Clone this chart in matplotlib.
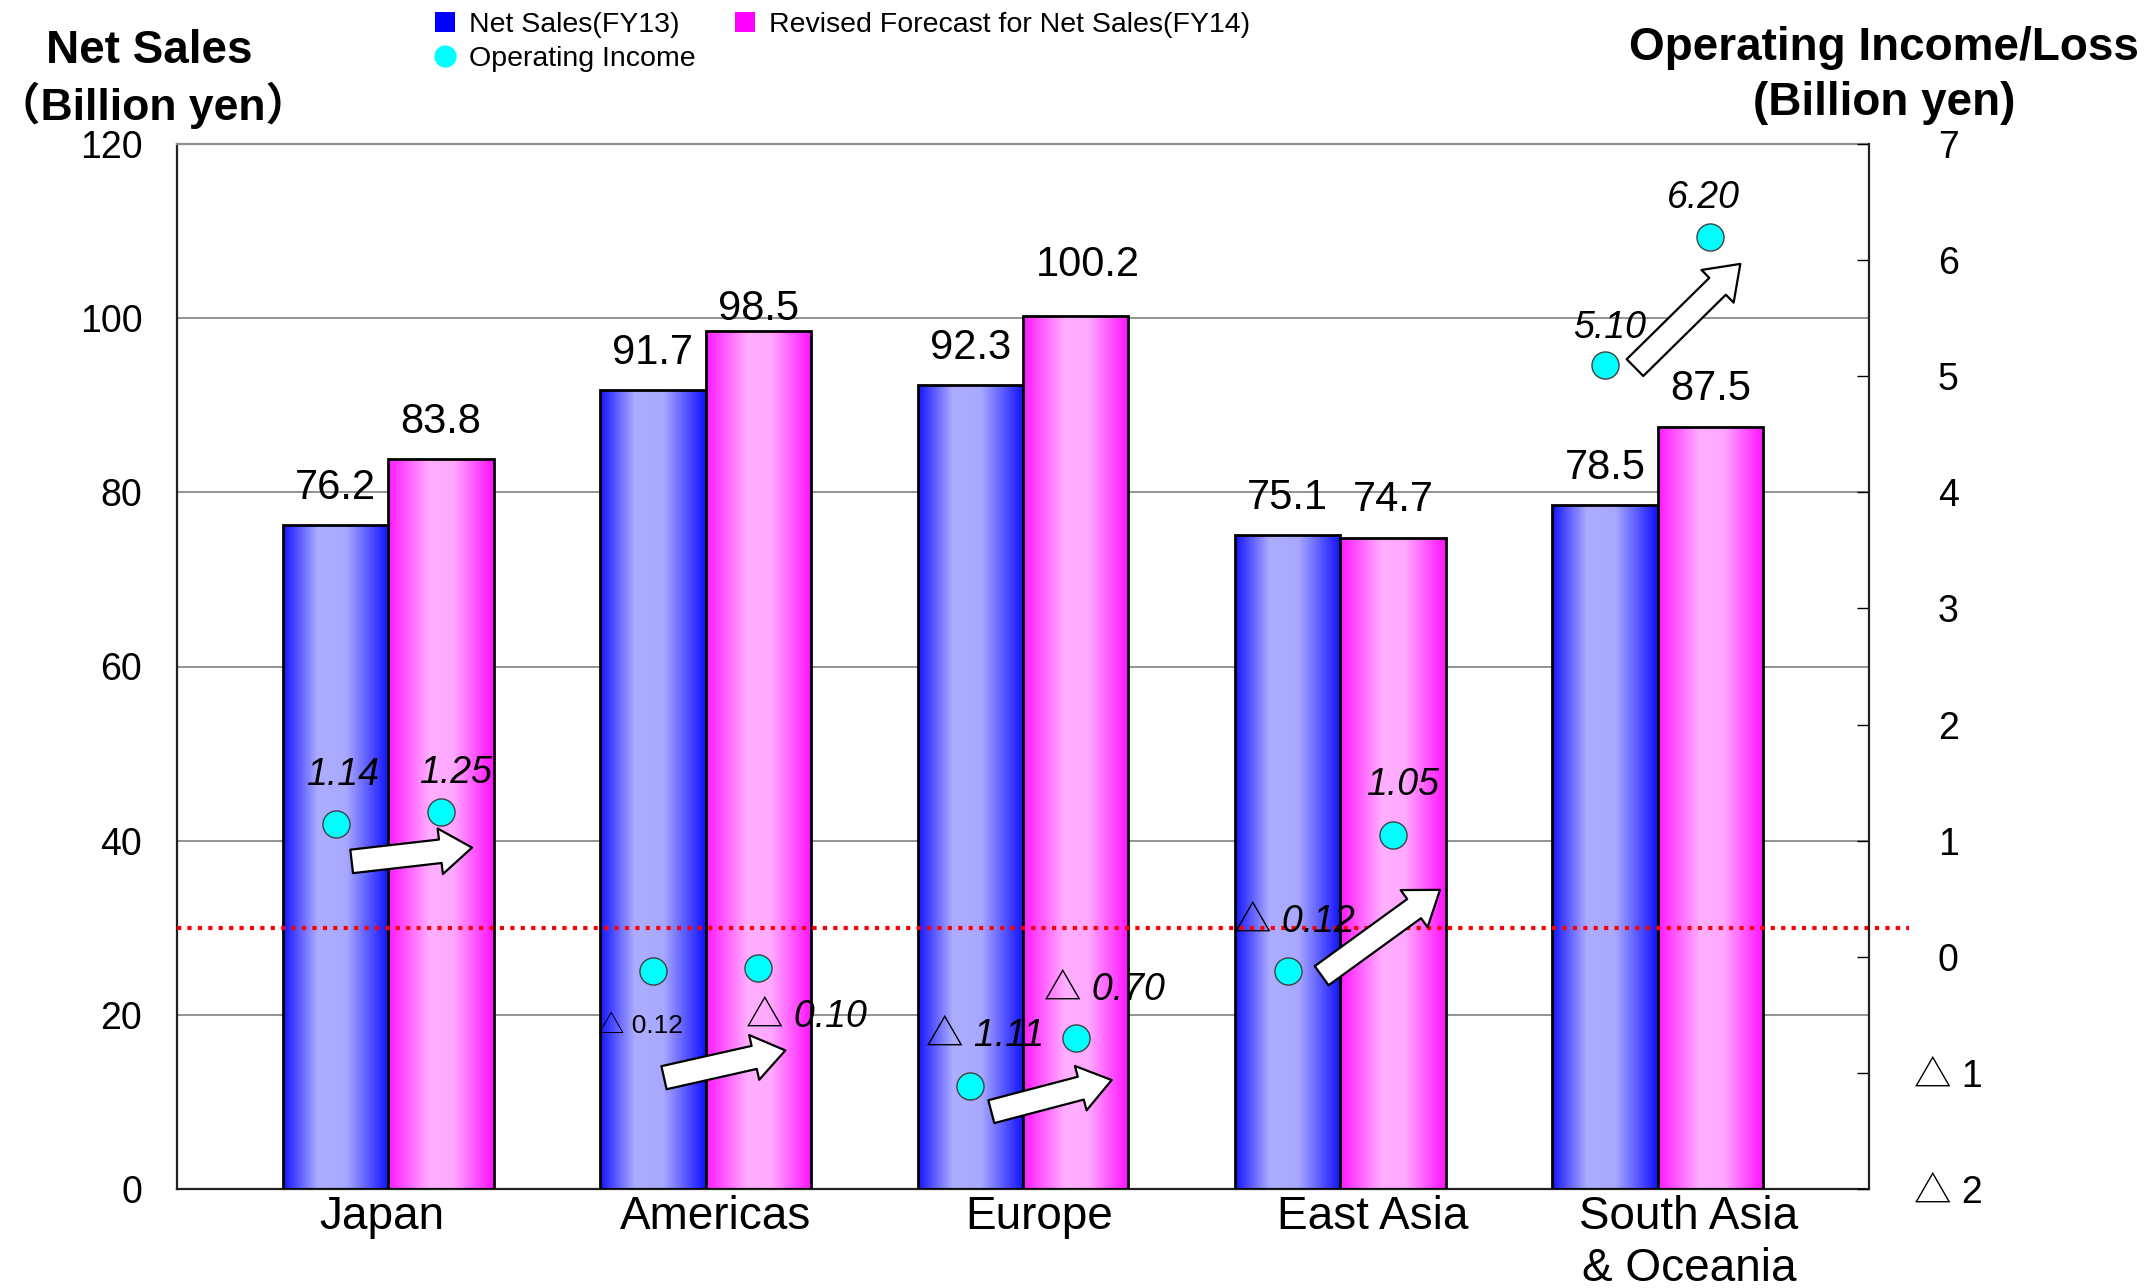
import numpy as np
import matplotlib
matplotlib.use('Agg')
import matplotlib.pyplot as plt
from matplotlib.colors import LinearSegmentedColormap
from matplotlib.patches import FancyArrowPatch, Patch, ArrowStyle
from matplotlib.lines import Line2D

# ---------------- data ----------------
regions = ['Japan', 'Americas', 'Europe', 'East Asia', 'South Asia\n& Oceania']
sales_fy13 = [76.2, 91.7, 92.3, 75.1, 78.5]
sales_fy14 = [83.8, 98.5, 100.2, 74.7, 87.5]
oi_fy13 = [1.14, -0.12, -1.11, -0.12, 5.10]
oi_fy14 = [1.25, -0.10, -0.70, 1.05, 6.20]
left_ticks = [0, 20, 40, 60, 80, 100, 120]
right_ticks = [-2, -1, 0, 1, 2, 3, 4, 5, 6, 7]
right_tick_labels = ['△ 2', '△ 1', '0', '1', '2', '3', '4', '5', '6', '7']
ref_line_value = 30
legend_labels = ['Net Sales(FY13)', 'Operating Income', 'Revised Forecast for Net Sales(FY14)']

# ---------------- style ----------------
FONT = ['Liberation Sans', 'Noto Sans CJK JP', 'DejaVu Sans']
plt.rcParams['font.family'] = FONT
DPI = 100
fig = plt.figure(figsize=(21.45, 12.88), dpi=DPI)
ax = fig.add_axes([177 / 2145, 99 / 1288, 1692 / 2145, 1045 / 1288])

x = np.arange(len(regions))
w = 0.332

blue_cmap = LinearSegmentedColormap.from_list(
    'b', [(0.0, '#1414ff'), (0.33, '#adadff'), (0.6, '#a8a8ff'), (1.0, '#1010ff')])
pink_cmap = LinearSegmentedColormap.from_list(
    'p', [(0.0, '#ff18ff'), (0.4, '#ffb0ff'), (0.62, '#ffa8ff'), (1.0, '#ff10ff')])
grad = np.linspace(0, 1, 256)[np.newaxis, :]

bars13 = ax.bar(x - w / 2, sales_fy13, w, facecolor='none', edgecolor='black', linewidth=2.0, zorder=3)
bars14 = ax.bar(x + w / 2, sales_fy14, w, facecolor='none', edgecolor='black', linewidth=2.0, zorder=3)
for bars, cmap in ((bars13, blue_cmap), (bars14, pink_cmap)):
    for p in bars:
        bx, by, bw, bh = p.get_x(), p.get_y(), p.get_width(), p.get_height()
        ax.imshow(grad, cmap=cmap, extent=[bx, bx + bw, by, by + bh], aspect='auto',
                  zorder=2, interpolation='bilinear')

ax.set_xlim(-0.666, 4.666)
ax.set_ylim(0, 120)
ax.set_yticks(left_ticks)
ax.tick_params(axis='y', length=0, pad=25, labelsize=27)
ax.yaxis.grid(True, color='#808080', linewidth=1.2, zorder=0)
ax.set_axisbelow(True)

cat_shift = [-0.022, 0.030, 0.052, 0.103, 0.099]
ax.set_xticks(x + np.array(cat_shift))
ax.set_xticklabels(regions, fontsize=33, linespacing=1.24)
ax.tick_params(axis='x', length=0, pad=4)

for s in ['left', 'bottom']:
    ax.spines[s].set_linewidth(1.6)
    ax.spines[s].set_color('#222222')
ax.spines['top'].set_color('#909090')
ax.spines['top'].set_linewidth(1.6)
ax.spines['right'].set_visible(False)

# value labels above bars
lab_dy13 = [37, 37, 37, 37, 37]
lab_dy14 = [37, 22, 51, 38, 38]
lab_dx14 = [0, 0, 12, 0, 0]
for i in range(len(regions)):
    ax.annotate(f'{sales_fy13[i]:.1f}', (x[i] - w / 2, sales_fy13[i]), xytext=(0, lab_dy13[i]),
                textcoords='offset pixels', ha='center', va='center', fontsize=30, zorder=7)
    ax.annotate(f'{sales_fy14[i]:.1f}', (x[i] + w / 2, sales_fy14[i]), xytext=(lab_dx14[i], lab_dy14[i]),
                textcoords='offset pixels', ha='center', va='center', fontsize=30, zorder=7)

# red dotted reference line (extends past the right axis)
ax.plot([0, 1.0235], [ref_line_value, ref_line_value], transform=ax.get_yaxis_transform(),
        color='#ff0000', linestyle=(0, (1, 1.5)), linewidth=3.0, clip_on=False, zorder=6)

# ---------------- right axis ----------------
ax2 = ax.twinx()
ax2.set_ylim(-2, 7)
ax2.set_xlim(ax.get_xlim())
ax2.set_yticks(right_ticks)
ax2.set_yticklabels(right_tick_labels)
ax2.tick_params(axis='y', direction='in', length=8.6, width=1.0, pad=57, labelsize=27)
for t in ax2.get_yticklabels():
    t.set_horizontalalignment('center')
for s in ['left', 'bottom', 'top']:
    ax2.spines[s].set_visible(False)
ax2.spines['right'].set_linewidth(1.6)
ax2.spines['right'].set_color('#222222')

ax2.plot(x - w / 2, oi_fy13, 'o', ms=19.5, mfc='#00ffff', mec='#404040', mew=1.0, ls='none', zorder=5)
ax2.plot(x + w / 2, oi_fy14, 'o', ms=19.5, mfc='#00ffff', mec='#404040', mew=1.0, ls='none', zorder=5)


def fmt(v):
    return ('△ ' + f'{abs(v):.2f}') if v < 0 else f'{v:.2f}'


oi_off13 = [(7, 49), (-12, -55), (15, 50), (7, 49), (5, 37)]
oi_off14 = [(15, 39), (48, -49), (29, 48), (10, 50), (-7, 39)]
oi_style13 = ['italic', 'normal', 'italic', 'italic', 'italic']
oi_size13 = [27, 19, 27, 27, 27]
for i in range(len(regions)):
    ax2.annotate(fmt(oi_fy13[i]), (x[i] - w / 2, oi_fy13[i]), xytext=oi_off13[i],
                 textcoords='offset pixels', ha='center', va='center',
                 fontsize=oi_size13[i], style=oi_style13[i], zorder=8)
    ax2.annotate(fmt(oi_fy14[i]), (x[i] + w / 2, oi_fy14[i]), xytext=oi_off14[i],
                 textcoords='offset pixels', ha='center', va='center',
                 fontsize=27, style='italic', zorder=8)

# block arrows from FY13 to FY14 operating income (pixel offsets from the points)
arrow_start_off = [(16, -37), (11, -107), (21, -26), (34, -5), (30, -3)]
arrow_end_off = [(31, -36), (27, -82), (36, -42), (47, -55), (30, -27)]
xr = ax2.get_xlim()
sx = (xr[1] - xr[0]) / 1692.0
sy = 9.0 / 1045.0
style = ArrowStyle.Simple(head_length=23, head_width=33, tail_width=17)
for i in range(len(regions)):
    pa = (x[i] - w / 2 + arrow_start_off[i][0] * sx, oi_fy13[i] + arrow_start_off[i][1] * sy)
    pb = (x[i] + w / 2 + arrow_end_off[i][0] * sx, oi_fy14[i] + arrow_end_off[i][1] * sy)
    arr = FancyArrowPatch(pa, pb, arrowstyle=style, mutation_scale=1, facecolor='white',
                          edgecolor='black', linewidth=1.6, shrinkA=0, shrinkB=0, zorder=7)
    ax2.add_patch(arr)

# ---------------- titles ----------------
fig.text(149 / 2145, 1 - 51 / 1288, 'Net Sales', ha='center', va='center', fontsize=33, fontweight='bold')
fig.text(153 / 2145, 1 - 105 / 1288, '（Billion yen）', ha='center', va='center', fontsize=32,
         fontweight='bold')
fig.text(1884 / 2145, 1 - 48 / 1288, 'Operating Income/Loss', ha='center', va='center', fontsize=33,
         fontweight='bold')
fig.text(1884 / 2145, 1 - 103 / 1288, '(Billion yen)', ha='center', va='center', fontsize=33,
         fontweight='bold')

# ---------------- legend ----------------
handles = [Patch(facecolor='#0000ff', edgecolor='none'),
           Line2D([], [], marker='o', color='none', markerfacecolor='#00ffff', markeredgecolor='none', markersize=16),
           Patch(facecolor='#ff00ff', edgecolor='none')]
fig.legend(handles, legend_labels, ncol=2, loc='upper left', bbox_to_anchor=(435 / 2145, 1 - 12 / 1288),
           frameon=False, fontsize=20.5, handlelength=0.7, handleheight=0.7, handletextpad=0.5,
           columnspacing=1.38, labelspacing=0.27, borderpad=0, borderaxespad=0)

fig.savefig('out.png', dpi=DPI)
